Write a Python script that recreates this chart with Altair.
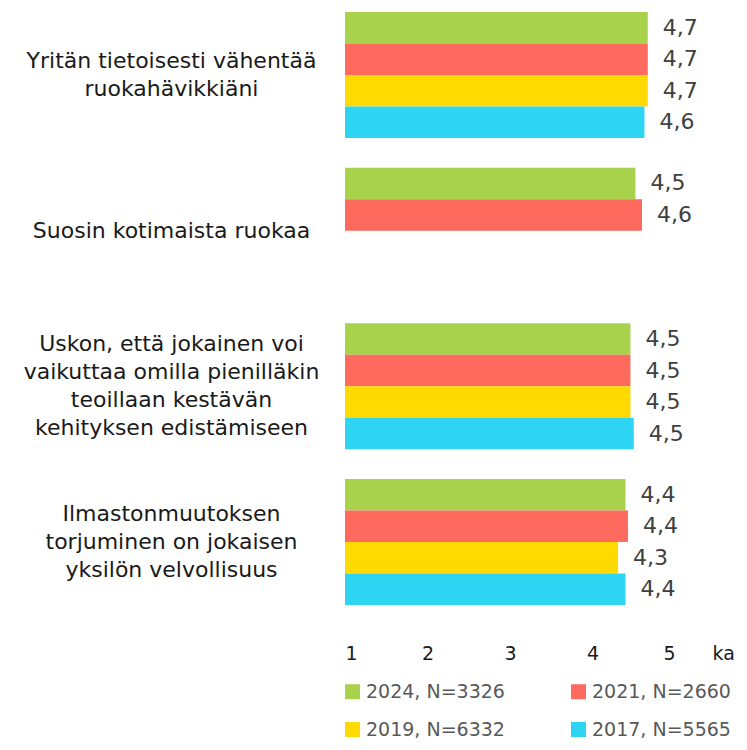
import altair as alt
import pandas as pd

categories = [
    "Yritän tietoisesti vähentää|ruokahävikkiäni",
    "Suosin kotimaista ruokaa",
    "Uskon, että jokainen voi|vaikuttaa omilla pienilläkin|teoillaan kestävän|kehityksen edistämiseen",
    "Ilmastonmuutoksen|torjuminen on jokaisen|yksilön velvollisuus",
]
series = ["2024, N=3326", "2021, N=2660", "2019, N=6332", "2017, N=5565"]
colors = ["#A9D24C", "#FF6A5E", "#FFDA00", "#2DD5F3"]

values_2024 = [4.67, 4.52, 4.46, 4.40]
values_2021 = [4.67, 4.60, 4.46, 4.43]
values_2019 = [4.67, None, 4.46, 4.31]
values_2017 = [4.63, None, 4.50, 4.40]

rows = []
for s, vals in zip(series, [values_2024, values_2021, values_2019, values_2017]):
    for c, v in zip(categories, vals):
        if v is not None:
            rows.append({"cat": c, "series": s, "value": v})
df = pd.DataFrame(rows)

FONT = "DejaVu Sans"
LINE_H = 28

# shift multi-line labels so that the block is centred on its band
offset_conditions = []
for c in categories:
    n = len(c.split("|"))
    if n > 1:
        offset_conditions.append({"test": f"datum.value == '{c}'", "value": -(n - 1) * LINE_H / 2})

y_enc = alt.Y(
    "cat:N",
    sort=categories,
    scale=alt.Scale(paddingInner=0.19, paddingOuter=0),
    axis=alt.Axis(
        title=None, domain=False, ticks=False, labelAlign="center",
        labelBaseline="middle", labelPadding=174, labelFontSize=22,
        labelLineHeight=LINE_H, labelColor="#1a1a1a", labelFont=FONT,
        labelLimit=400, labelExpr="split(datum.label, '|')",
        labelOffset={"condition": offset_conditions, "value": 0},
    ),
)
yoff = alt.YOffset("series:N", sort=series, scale=alt.Scale(domain=series, paddingInner=0, paddingOuter=0))
x_enc = alt.X(
    "value:Q",
    scale=alt.Scale(domain=[1, 5], nice=False, zero=False),
    axis=alt.Axis(
        values=[1, 2, 3, 4, 5], format="d", title="ka", grid=False, domain=False,
        ticks=False, labelFontSize=19, labelColor="#1a1a1a", labelFont=FONT,
        labelPadding=39, titleFont=FONT, titleFontSize=19, titleFontWeight="normal",
        titleColor="#1a1a1a", titleAnchor="start", titleAlign="left",
        titleX=367, titleY=39, titleBaseline="top",
    ),
)

bars = alt.Chart(df).mark_bar().encode(
    y=y_enc,
    yOffset=yoff,
    x=x_enc,
    x2=alt.datum(1),
    color=alt.Color(
        "series:N", sort=series,
        scale=alt.Scale(domain=series, range=colors),
        legend=alt.Legend(
            title=None, orient="none", legendX=-2, legendY=670, columns=2,
            direction="horizontal",
            symbolType="square", symbolSize=225, symbolStrokeWidth=0,
            labelFontSize=19, labelColor="#595959", labelFont=FONT,
            labelOffset=4, columnPadding=64, rowPadding=18, labelLimit=300,
            symbolOffset=0,
        ),
    ),
)

labels = alt.Chart(df).transform_calculate(
    lab="replace(format(datum.value, '.1f'), '.', ',')"
).mark_text(align="left", baseline="middle", dx=15, fontSize=22, color="#404040", font=FONT).encode(
    y=alt.Y("cat:N", sort=categories),
    yOffset=yoff,
    x=alt.X("value:Q"),
    text="lab:N",
)

chart = alt.layer(bars, labels).properties(
    width=330, height=593,
    autosize=alt.AutoSizeParams(type="none"),
    padding={"left": 337, "top": 4, "right": 64, "bottom": 137},
).configure_view(stroke=None)

chart.save("out.html", embed_options={"renderer": "svg", "actions": False})
